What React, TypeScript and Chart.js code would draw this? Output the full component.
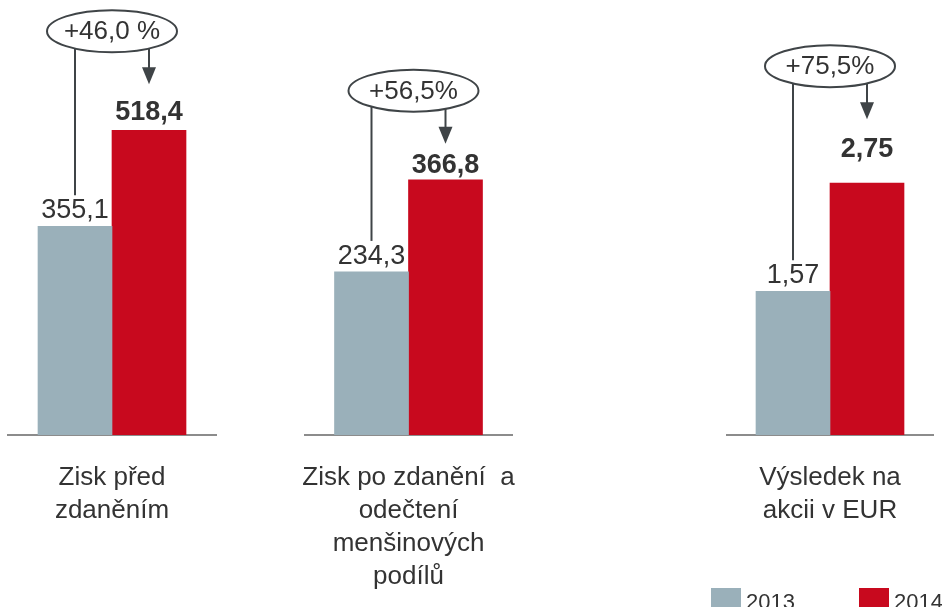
import React, { useEffect, useRef } from 'react';
import { Chart, registerables } from 'chart.js';

Chart.register(...registerables);

// ---------- data ----------
const categories: string[][] = [
  ['Zisk před', 'zdaněním'],
  ['Zisk po zdanění  a', 'odečtení', 'menšinových', 'podílů'],
  ['Výsledek na', 'akcii v EUR'],
];
const seriesNames = ['2013', '2014'];
const values2013 = [355.1, 234.3, 1.57];
const values2014 = [518.4, 366.8, 2.75];
const changeLabels = ['+46,0 %', '+56,5%', '+75,5%'];
const decimals = [1, 1, 2];
const axisMax = [740, 625, 4.75];

// ---------- style / layout ----------
const COLORS = ['#9AB0BA', '#C8091E'];
const FONT = '"Liberation Sans", Arial, Helvetica, sans-serif';
const TEXT = '#333333';
const ANNOT = '#3F4447';
const H = 607;
const BASE = 435;

const panels = [
  { left: 0, width: 300, padL: 8, padR: 84, redGap: 10, arrowGap: 16, ellDx: 0, legend: false },
  { left: 230, width: 340, padL: 75, padR: 58, redGap: 7, arrowGap: 9, ellDx: 5, legend: false },
  { left: 660, width: 282, padL: 67, padR: 9, redGap: 26, arrowGap: 18, ellDx: 0, legend: true },
];

const fmt = (v: number, d: number) => v.toFixed(d).replace('.', ',');

const overlay = {
  id: 'overlay',
  afterDraw(chart: any, _args: any, o: any) {
    const ctx: CanvasRenderingContext2D = chart.ctx;
    const g = chart.getDatasetMeta(0).data[0];
    const r = chart.getDatasetMeta(1).data[0];
    const vg = chart.data.datasets[0].data[0] as number;
    const vr = chart.data.datasets[1].data[0] as number;
    ctx.save();
    ctx.textAlign = 'center';
    ctx.textBaseline = 'alphabetic';
    ctx.fillStyle = TEXT;

    // value labels
    const gBase = g.y - 8;
    ctx.font = `27px ${FONT}`;
    ctx.fillText(fmt(vg, o.dec), g.x, gBase);
    const rBase = r.y - o.redGap;
    ctx.font = `bold 27px ${FONT}`;
    ctx.fillText(fmt(vr, o.dec), r.x, rBase);

    // annotation geometry
    const rx = 65;
    const ry = 21;
    const cap = 20;
    const tip = rBase - cap - o.arrowGap;
    const ellBottom = tip - 32;
    const cy = ellBottom - ry;
    const cx = (g.x + r.x) / 2 + o.ellDx;
    const yOn = (x: number) => cy + ry * Math.sqrt(Math.max(0, 1 - ((x - cx) / rx) ** 2));

    ctx.strokeStyle = ANNOT;
    ctx.fillStyle = ANNOT;
    ctx.lineWidth = 2;
    // connector from ellipse to 2013 label
    ctx.beginPath();
    ctx.moveTo(g.x, yOn(g.x));
    ctx.lineTo(g.x, gBase - cap - 3);
    ctx.stroke();
    // arrow to 2014 label
    ctx.beginPath();
    ctx.moveTo(r.x, yOn(r.x));
    ctx.lineTo(r.x, tip - 15);
    ctx.stroke();
    ctx.beginPath();
    ctx.moveTo(r.x - 7, tip - 17);
    ctx.lineTo(r.x + 7, tip - 17);
    ctx.lineTo(r.x, tip);
    ctx.closePath();
    ctx.fill();

    // ellipse
    ctx.beginPath();
    ctx.ellipse(cx, cy, rx, ry, 0, 0, Math.PI * 2);
    ctx.fillStyle = '#ffffff';
    ctx.fill();
    ctx.stroke();
    ctx.fillStyle = TEXT;
    ctx.font = `26px ${FONT}`;
    ctx.textBaseline = 'middle';
    ctx.fillText(o.change, cx, cy + 1);

    // legend
    if (o.legend) {
      const x0 = chart.chartArea.left - 16;
      ctx.textAlign = 'left';
      ctx.textBaseline = 'alphabetic';
      chart.data.datasets.forEach((ds: any, k: number) => {
        const x = x0 + k * 148;
        ctx.fillStyle = ds.backgroundColor;
        ctx.fillRect(x, 588, 30, 22);
        ctx.fillStyle = TEXT;
        ctx.font = `22px ${FONT}`;
        ctx.fillText(ds.label, x + 35, 609);
      });
    }
    ctx.restore();
  },
};

function Panel({ index }: { index: number }) {
  const ref = useRef<HTMLCanvasElement>(null);
  const p = panels[index];
  useEffect(() => {
    const chart = new Chart(ref.current as HTMLCanvasElement, {
      type: 'bar',
      data: {
        labels: [categories[index]],
        datasets: [
          { label: seriesNames[0], data: [values2013[index]], backgroundColor: COLORS[0], barThickness: 74 },
          { label: seriesNames[1], data: [values2014[index]], backgroundColor: COLORS[1], barThickness: 74 },
        ],
      } as any,
      options: {
        animation: false,
        responsive: false,
        events: [],
        layout: { padding: { left: p.padL, right: p.padR, top: 0, bottom: 0 } },
        plugins: {
          legend: { display: false },
          tooltip: { enabled: false },
          overlay: {
            dec: decimals[index],
            change: changeLabels[index],
            redGap: p.redGap,
            arrowGap: p.arrowGap,
            ellDx: p.ellDx,
            legend: p.legend,
          },
        } as any,
        scales: {
          x: {
            grid: { display: false, drawTicks: false },
            border: { display: true, color: '#8C8C8C', width: 2 },
            ticks: {
              padding: 26,
              color: TEXT,
              maxRotation: 0,
              minRotation: 0,
              autoSkip: false,
              font: { family: FONT, size: 26, lineHeight: 1.27 },
            },
            afterFit: (s: any) => {
              s.height = H - BASE;
            },
          },
          y: { display: false, min: 0, max: axisMax[index] },
        },
      } as any,
      plugins: [overlay as any],
    });
    return () => chart.destroy();
  }, [index]);
  return (
    <canvas
      ref={ref}
      width={p.width}
      height={H}
      style={{ position: 'absolute', left: p.left, top: 0, width: p.width, height: H }}
    />
  );
}

export default function App() {
  useEffect(() => {
    document.body.style.margin = '0';
  }, []);
  return (
    <div style={{ position: 'relative', width: 942, height: H, overflow: 'hidden', background: '#fff' }}>
      {panels.map((_, i) => (
        <Panel key={i} index={i} />
      ))}
    </div>
  );
}
